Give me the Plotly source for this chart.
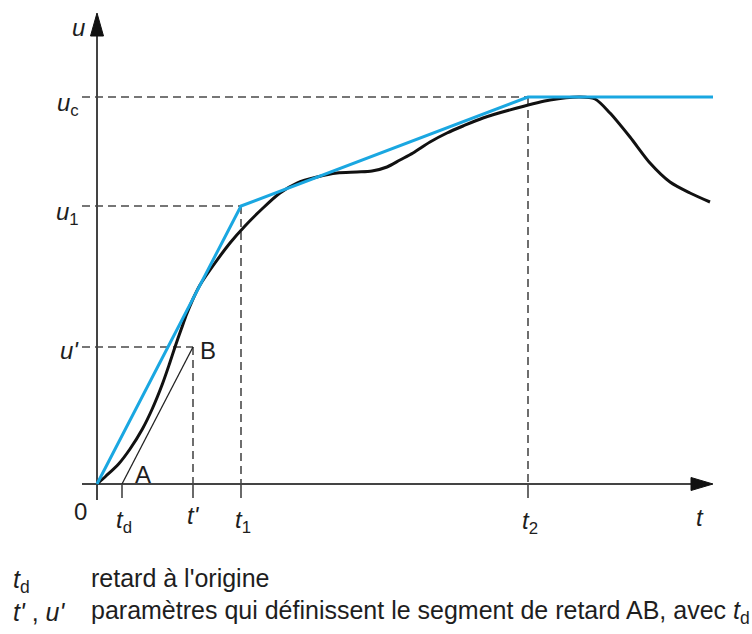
import plotly.graph_objects as go

# ---- key values (chart units) ----
T_D = 25
T_PRIME = 96
T1 = 144
T2 = 431
T_END = 616
U_PRIME = 137
U1 = 278
UC = 387

# measured response u(t) (black curve)
curve_t = [0, 9, 21.6, 33, 45.4, 55.2, 65.4, 72.4, 78, 84.3, 89.7, 96, 103, 118, 133,
           148, 166, 183, 200, 220, 240, 260, 275, 290, 303, 316, 333, 350, 366, 386,
           420, 453, 483, 498, 513, 533, 553, 573, 593, 613]
curve_u = [0, 8, 20, 35, 55, 75, 100, 120, 137, 155, 170, 185, 199, 221, 241,
           258, 276, 291, 301, 307, 311, 312, 313, 317, 324, 331, 342, 351, 358, 366,
           376, 384, 387, 385, 371, 347, 321, 302, 291, 282]

# approximating broken line (blue)
blue_t = [0, T1, T2, T_END]
blue_u = [0, U1, UC, UC]

# delay segment AB
ab_t = [T_D, T_PRIME]
ab_u = [0, U_PRIME]

# axis extents
X_MIN, X_MAX, X_TIP = -15, 598, 616
Y_MIN, Y_MAX, Y_TIP = -16, 452, 471
TICK_LEN = 14

AXIS_COL = "#444444"
DASH_COL = "#4a4a4a"
TXT_COL = "#1e1e1e"
BLUE = "#1aa7e1"
FONT = "Liberation Sans, Arial, sans-serif"

fig = go.Figure()


def line(xs, ys, color, width, dash=None):
    fig.add_trace(go.Scatter(x=xs, y=ys, mode="lines", hoverinfo="skip",
                             line=dict(color=color, width=width, dash=dash),
                             showlegend=False))


# dashed guide lines
dash = "8px,5px"
line([X_MIN, T2], [UC, UC], DASH_COL, 1.6, dash)
line([X_MIN, T1], [U1, U1], DASH_COL, 1.6, dash)
line([X_MIN, T_PRIME], [U_PRIME, U_PRIME], DASH_COL, 1.6, dash)
line([T2, T2], [UC, 0], DASH_COL, 1.6, dash)
line([T1, T1], [U1, 0], DASH_COL, 1.6, dash)
line([T_PRIME, T_PRIME], [U_PRIME, 0], DASH_COL, 1.6, dash)

# axes
line([X_MIN, X_MAX], [0, 0], AXIS_COL, 2)
line([0, 0], [Y_MIN, Y_MAX], AXIS_COL, 2)
for tv in [T_D, T_PRIME, T1, T2]:
    line([tv, tv], [0, -TICK_LEN], AXIS_COL, 1.6)

# arrowheads
fig.add_trace(go.Scatter(x=[X_MAX - 4, X_TIP, X_MAX - 4, X_MAX - 4], y=[6.5, 0, -6.5, 6.5],
                         mode="lines", fill="toself", fillcolor="#111111",
                         line=dict(color="#111111", width=1), hoverinfo="skip", showlegend=False))
fig.add_trace(go.Scatter(x=[-6.5, 0, 6.5, -6.5], y=[Y_MAX - 4, Y_TIP, Y_MAX - 4, Y_MAX - 4],
                         mode="lines", fill="toself", fillcolor="#111111",
                         line=dict(color="#111111", width=1), hoverinfo="skip", showlegend=False))

# AB segment
line(ab_t, ab_u, "#222222", 1.3)

# curves
fig.add_trace(go.Scatter(x=curve_t, y=curve_u, mode="lines", hoverinfo="skip",
                         line=dict(color="#111111", width=3, shape="spline", smoothing=0.8),
                         showlegend=False))
line(blue_t, blue_u, BLUE, 3)


def ann(x, y, text, size=24, xanchor="center", yanchor="middle"):
    fig.add_annotation(x=x, y=y, text=text, showarrow=False, xanchor=xanchor,
                       yanchor=yanchor, font=dict(family=FONT, size=size, color=TXT_COL))


ann(-19, 457, "<i>u</i>")
ann(-16, 380, "<i>u</i><sub>c</sub>", xanchor="right")
ann(-16, 271, "<i>u</i><sub>1</sub>", xanchor="right")
ann(-16, 134, "<i>u'</i>", xanchor="right")
ann(-17, -27, "0")
ann(T_D + 2, -37, "<i>t</i><sub>d</sub>")
ann(T_PRIME, -31, "<i>t'</i>")
ann(T1 + 2, -37, "<i>t</i><sub>1</sub>")
ann(T2 + 2, -38, "<i>t</i><sub>2</sub>")
ann(603, -33, "<i>t</i>")
ann(T_D + 21, 10, "A")
ann(T_PRIME + 15, 134, "B")

ann(-86, -97, "<i>t</i><sub>d</sub>", size=25, xanchor="left")
ann(-8, -94, "retard à l'origine", size=25, xanchor="left")
ann(-86, -128, "<i>t'</i> , <i>u'</i>", size=25, xanchor="left")
ann(-8, -128, "paramètres qui définissent le segment de retard AB, avec <i>t</i><sub>d</sub>",
    size=25, xanchor="left")

fig.update_layout(
    width=752, height=634, autosize=False,
    margin=dict(l=0, r=0, t=0, b=0),
    paper_bgcolor="white", plot_bgcolor="white",
    xaxis=dict(range=[-97, 655], visible=False, fixedrange=True),
    yaxis=dict(range=[-150, 484], visible=False, fixedrange=True),
    showlegend=False,
)

fig.write_html("out.html")
